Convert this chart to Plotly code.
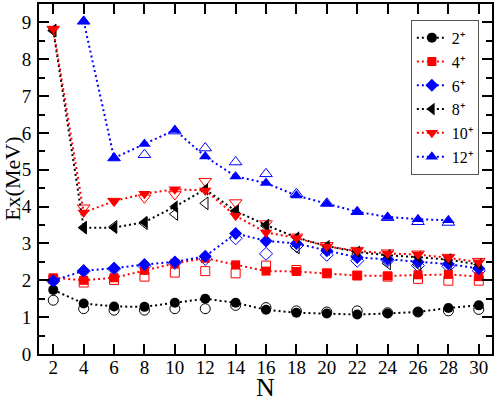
import plotly.graph_objects as go

# neutron number
N = [2, 4, 6, 8, 10, 12, 14, 16, 18, 20, 22, 24, 26, 28, 30]

# excitation energies (MeV): filled = connected series, open = comparison points
e2_fill = [1.74, 1.37, 1.29, 1.28, 1.39, 1.50, 1.39, 1.20, 1.12, 1.10, 1.07, 1.10, 1.14, 1.25, 1.32]
e2_open = [1.46, 1.23, 1.19, 1.19, 1.23, 1.23, 1.32, 1.26, 1.17, 1.14, 1.17, 1.12, 1.14, 1.17, 1.21]

e4_fill = [2.07, 2.00, 2.07, 2.27, 2.46, 2.60, 2.42, 2.25, 2.24, 2.19, 2.13, 2.12, 2.15, 2.16, 2.10]
e4_open = [2.03, 1.94, 2.01, 2.10, 2.21, 2.25, 2.19, 2.40, 2.28, 2.19, 2.13, 2.10, 2.04, 1.99, 1.99]

e6_fill = [1.99, 2.26, 2.33, 2.43, 2.50, 2.65, 3.27, 3.07, 3.00, 2.80, 2.62, 2.57, 2.50, 2.44, 2.32]
e6_open = [1.98, 2.25, 2.31, 2.38, 2.47, 2.58, 3.14, 2.72, 2.93, 2.69, 2.53, 2.54, 2.40, 2.38, 2.26]

e8_fill = [8.78, 3.43, 3.43, 3.58, 4.00, 4.47, 3.88, 3.50, 3.16, 2.93, 2.77, 2.68, 2.63, 2.56, 2.43]
e8_open = [8.78, 3.43, 3.45, 3.55, 3.80, 4.09, 3.88, 3.48, 2.89, 2.85, 2.72, 2.46, 2.43, 2.45, 2.35]

e10_fill = [8.82, 3.84, 4.15, 4.35, 4.47, 4.44, 3.75, 3.30, 3.15, 2.92, 2.80, 2.73, 2.70, 2.61, 2.49]
e10_open = [8.82, 3.97, 4.15, 4.24, 4.33, 4.69, 4.11, 3.54, 3.18, 2.95, 2.82, 2.75, 2.72, 2.63, 2.52]

e12_fill = [None, 9.03, 5.32, 5.70, 6.08, 5.36, 4.82, 4.64, 4.30, 4.08, 3.86, 3.72, 3.66, 3.63, None]
e12_open = [None, 9.03, 5.32, 5.41, 6.05, 5.59, 5.21, 4.89, 4.35, 4.09, 3.86, 3.70, 3.59, 3.57, None]

labels = ["2\u207a", "4\u207a", "6\u207a", "8\u207a", "10\u207a", "12\u207a"]

series = [
    (e2_fill, e2_open, "black", "circle", 10),
    (e4_fill, e4_open, "red", "square", 9),
    (e6_fill, e6_open, "blue", "diamond", 10),
    (e8_fill, e8_open, "black", "triangle-left", 11),
    (e10_fill, e10_open, "red", "triangle-down", 11),
    (e12_fill, e12_open, "blue", "triangle-up", 11),
]

fig = go.Figure()

# open symbols, no line
for fill, opn, col, sym, sz in series:
    fig.add_trace(go.Scatter(
        x=N, y=opn, mode="markers", showlegend=False,
        marker=dict(symbol=sym + "-open", size=sz, color=col, line=dict(width=1, color=col)),
    ))

# filled symbols joined by dotted lines
for (fill, opn, col, sym, sz), lab in zip(series, labels):
    fig.add_trace(go.Scatter(
        x=N, y=fill, mode="lines+markers", name=lab,
        line=dict(color=col, width=2, dash="2px,3px"),
        marker=dict(symbol=sym, size=sz, color=col, line=dict(width=0)),
    ))

axis_common = dict(
    showgrid=False, zeroline=False, showline=True, linecolor="black", linewidth=2,
    mirror="ticks", ticks="inside", tickcolor="black", tickwidth=2, ticklen=10,
    tickfont=dict(family="Liberation Serif", size=19, color="black"),
)

fig.update_layout(
    width=496, height=398,
    paper_bgcolor="white", plot_bgcolor="white",
    margin=dict(l=39, r=3, t=2, b=44),
    font=dict(family="Liberation Serif", color="black"),
    xaxis=dict(range=[1.06, 30.87], tickmode="linear", tick0=2, dtick=2,
               ticklabelstandoff=-5, **axis_common),
    yaxis=dict(range=[0, 9.5], tickmode="linear", tick0=0, dtick=1,
               ticklabelstandoff=2,
               minor=dict(dtick=0.5, ticks="inside", ticklen=6, tickwidth=2, tickcolor="black"),
               **axis_common),
    legend=dict(x=0.971, y=0.955, xanchor="right", yanchor="top",
                bgcolor="white", bordercolor="#555555", borderwidth=1,
                font=dict(family="Liberation Serif", size=16, color="black"),
                tracegroupgap=0, itemwidth=30),
    showlegend=True,
)

# axis titles
fig.add_annotation(text="N", xref="paper", yref="paper", x=0.5, y=-0.095,
                   showarrow=False, yanchor="middle",
                   font=dict(family="Liberation Serif", size=26, color="black"))
fig.add_annotation(text="Ex(MeV)", xref="paper", yref="paper", x=-0.06, y=0.5,
                   showarrow=False, textangle=-90, xanchor="center",
                   font=dict(family="Liberation Serif", size=22, color="black"))

fig.write_html("out.html", config={"displayModeBar": False},
               post_script="document.body.style.margin='0';")
